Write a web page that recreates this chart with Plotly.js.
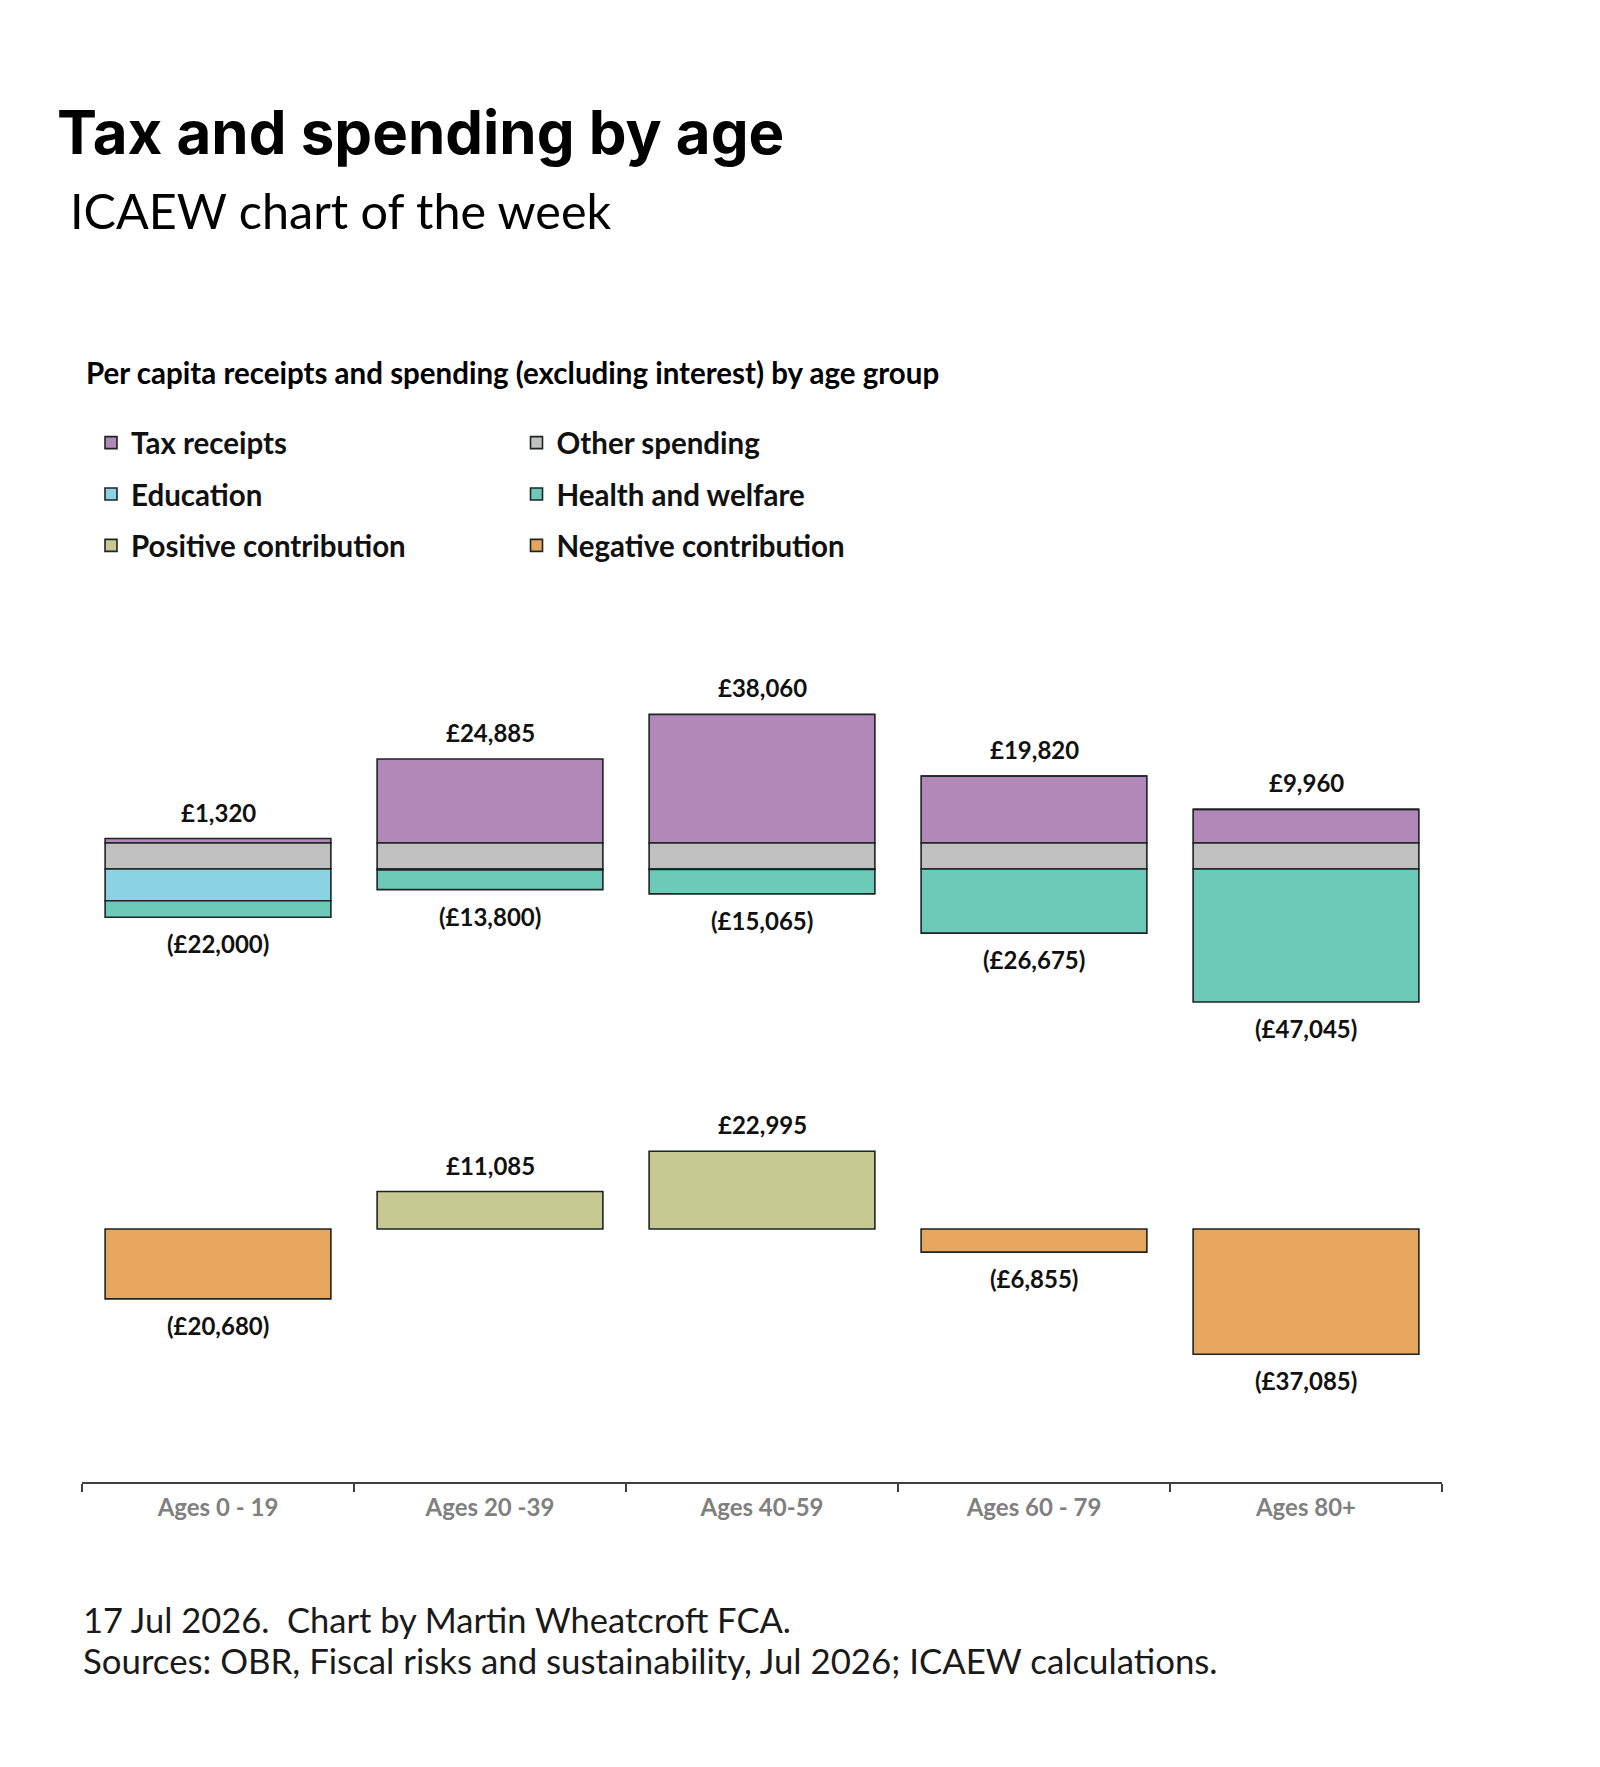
<!DOCTYPE html>
<html>
<head>
<meta charset="utf-8">
<script src="https://cdn.plot.ly/plotly-3.0.1.min.js"></script>
<style>
  html, body { margin: 0; padding: 0; background: #ffffff; }
  #chart { width: 1600px; height: 1767px; }
</style>
</head>
<body>
<div id="chart"></div>
<script>
// Per capita receipts and spending (excluding interest) by age group, £
const ageGroups = ['Ages 0 - 19', 'Ages 20 -39', 'Ages 40-59', 'Ages 60 - 79', 'Ages 80+'];
const taxReceipts = [1320, 24885, 38060, 19820, 9960];
const otherSpending = [7700, 7700, 7700, 7700, 7700];
const education = [9400, 300, 100, 0, 0];
const healthWelfare = [4900, 5800, 7265, 18975, 39345];
const netContribution = [-20680, 11085, 22995, -6855, -37085];

const colors = {
  tax: '#b189b9',
  other: '#c0c0c0',
  education: '#8bd3e4',
  health: '#6dc9b8',
  positive: '#c6c992',
  negative: '#e6a65e'
};
const edge = '#1e2424';
const labelFont = 'Lato, "Open Sans", sans-serif';
const headFont = 'Inter, Lato, sans-serif';

// Page geometry (px)
const W = 1600, H = 1767;
const M = { l: 82, r: 158, t: 600, b: 285 };
const plotW = W - M.l - M.r;
const plotH = H - M.t - M.b;
const poundsPerPx = 296;            // both panels share one vertical scale
const topZeroPx = 843;              // baseline of receipts / spending panel
const bottomZeroPx = 1229;          // baseline of net contribution panel
const axisBottomPx = H - M.b;

function rangeFor(zeroPx) {
  return [-(axisBottomPx - zeroPx) * poundsPerPx, (zeroPx - M.t) * poundsPerPx];
}
const px = x => (x - M.l) / plotW;
const py = y => 1 - (y - M.t) / plotH;

const fmt = v => '£' + Math.abs(v).toLocaleString('en-GB');
const totalSpending = ageGroups.map((_, i) => otherSpending[i] + education[i] + healthWelfare[i]);

function barTrace(name, values, color, axis, legend) {
  return {
    type: 'bar', name: name, x: ageGroups, y: values, yaxis: axis,
    legend: legend, legendgroup: name,
    marker: { color: color, line: { color: edge, width: 1.6 } },
    hoverinfo: 'skip'
  };
}

const traces = [
  barTrace('Tax receipts', taxReceipts, colors.tax, 'y', 'legend'),
  barTrace('Other spending', otherSpending.map(v => -v), colors.other, 'y', 'legend2'),
  barTrace('Education', education.map(v => -v), colors.education, 'y', 'legend'),
  barTrace('Health and welfare', healthWelfare.map(v => -v), colors.health, 'y', 'legend2'),
  barTrace('Positive contribution', netContribution.map(v => v > 0 ? v : null), colors.positive, 'y2', 'legend'),
  barTrace('Negative contribution', netContribution.map(v => v < 0 ? v : null), colors.negative, 'y2', 'legend2')
];

const valueFont = { family: labelFont, size: 24, color: '#111111', weight: 700 };
const annotations = [];
ageGroups.forEach((g, i) => {
  annotations.push({ x: g, y: taxReceipts[i], xref: 'x', yref: 'y', text: fmt(taxReceipts[i]),
    showarrow: false, yanchor: 'bottom', yshift: 10, font: valueFont });
  annotations.push({ x: g, y: -totalSpending[i], xref: 'x', yref: 'y', text: '(' + fmt(totalSpending[i]) + ')',
    showarrow: false, yanchor: 'top', yshift: -10, font: valueFont });
  const n = netContribution[i];
  annotations.push({ x: g, y: n, xref: 'x', yref: 'y2',
    text: n >= 0 ? fmt(n) : '(' + fmt(n) + ')',
    showarrow: false, yanchor: n >= 0 ? 'bottom' : 'top', yshift: n >= 0 ? 10 : -10, font: valueFont });
});

function textAt(text, xPx, yPx, font) {
  return { text: text, xref: 'paper', yref: 'paper', x: px(xPx), y: py(yPx),
    xanchor: 'left', yanchor: 'middle', showarrow: false, align: 'left', font: font };
}
annotations.push(textAt('Tax and spending by age', 55, 132,
  { family: headFont, size: 60, color: '#000000', weight: 700 }));
annotations.push(textAt('ICAEW chart of the week', 68, 210,
  { family: labelFont, size: 48.5, color: '#000000', weight: 400 }));
annotations.push(textAt('Per capita receipts and spending (excluding interest) by age group', 84, 373,
  { family: labelFont, size: 29.5, color: '#000000', weight: 700 }));
annotations.push(textAt('17 Jul 2026.\u00a0 Chart by Martin Wheatcroft FCA.', 81, 1619,
  { family: labelFont, size: 34.5, color: '#1a1a1a', weight: 400 }));
annotations.push(textAt('Sources: OBR, Fiscal risks and sustainability, Jul 2026; ICAEW calculations.', 81, 1660,
  { family: labelFont, size: 34.8, color: '#1a1a1a', weight: 400 }));

const legendFont = { family: labelFont, size: 29.5, color: '#111111', weight: 700 };
function legendAt(xPx, yPx) {
  return { x: px(xPx), y: py(yPx), xanchor: 'left', yanchor: 'top', orientation: 'v',
    traceorder: 'grouped', tracegroupgap: 10, font: legendFont, bgcolor: 'rgba(0,0,0,0)',
    itemclick: false, itemdoubleclick: false };
}

const layout = {
  width: W, height: H,
  margin: M,
  paper_bgcolor: '#ffffff', plot_bgcolor: '#ffffff',
  barmode: 'relative', bargap: 0.17,
  showlegend: true,
  legend: legendAt(91, 417),
  legend2: legendAt(516.5, 417),
  xaxis: {
    type: 'category', categoryorder: 'array', categoryarray: ageGroups,
    showline: true, linecolor: '#404040', linewidth: 2,
    ticks: 'outside', tickson: 'boundaries', ticklen: 8, tickwidth: 2, tickcolor: '#404040',
    ticklabelstandoff: 3,
    tickfont: { family: labelFont, size: 24, color: '#808080', weight: 700 },
    showgrid: false, zeroline: false, fixedrange: true
  },
  yaxis: { range: rangeFor(topZeroPx), visible: false, fixedrange: true },
  yaxis2: { range: rangeFor(bottomZeroPx), overlaying: 'y', visible: false, fixedrange: true },
  annotations: annotations,
  hovermode: false
};

Plotly.newPlot('chart', traces, layout, { staticPlot: true, displayModeBar: false });
</script>
</body>
</html>
